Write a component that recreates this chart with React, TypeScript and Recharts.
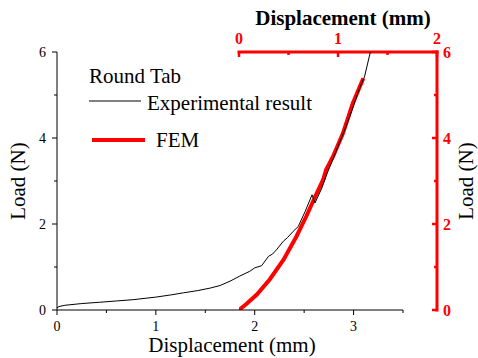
import React from 'react';
import { LineChart, Line, XAxis, YAxis } from 'recharts';

// Experimental result (bottom displacement axis, mm) vs load (N)
const expDisp = [0, 0.02, 0.08, 0.25, 0.43, 0.6, 0.77, 1.0, 1.15, 1.28, 1.42, 1.55, 1.65, 1.75, 1.85, 1.95, 2.0, 2.07, 2.14, 2.18, 2.22, 2.29, 2.33, 2.39, 2.44, 2.51, 2.58, 2.61, 2.68, 2.73, 2.79, 2.86, 2.93, 3.0, 3.06, 3.11, 3.17];
const expLoad = [0.05, 0.08, 0.11, 0.15, 0.18, 0.21, 0.24, 0.3, 0.35, 0.4, 0.45, 0.51, 0.57, 0.67, 0.79, 0.9, 0.98, 1.03, 1.25, 1.3, 1.4, 1.6, 1.68, 1.83, 1.94, 2.29, 2.68, 2.49, 2.84, 3.16, 3.5, 3.9, 4.3, 4.75, 5.15, 5.42, 6.0];

// FEM (top displacement axis, mm) vs load (N)
const femDisp = [0, 0.08, 0.18, 0.31, 0.45, 0.58, 0.68, 0.77, 0.85, 0.88, 0.95, 1.05, 1.15, 1.256];
const femLoad = [0, 0.15, 0.36, 0.71, 1.17, 1.71, 2.18, 2.64, 3.03, 3.26, 3.57, 4.11, 4.81, 5.39];

const bottomTicks = [0, 0.5, 1, 1.5, 2, 2.5, 3, 3.5];
const topTicks = [0, 0.5, 1, 1.5, 2];
const loadTicks = [0, 1, 2, 3, 4, 5, 6];

const expData = expDisp.map((x, i) => ({ x, y: expLoad[i] }));
const femData = femDisp.map((x, i) => ({ x, y: femLoad[i] }));

const SERIF = '"Liberation Serif", "Times New Roman", serif';
const RED = '#ff0000';

const BottomTick = (props: any) => {
  const { x, y, payload } = props;
  const major = Number.isInteger(payload.value);
  return (
    <g>
      <line x1={x} x2={x} y1={y} y2={y + (major ? 5 : 3)} stroke="#000" strokeWidth={1} />
      {major && (
        <text x={x} y={y + 21} textAnchor="middle" fontSize={14} fontFamily={SERIF} fill="#000">
          {payload.value}
        </text>
      )}
    </g>
  );
};

const LeftTick = (props: any) => {
  const { x, y, payload } = props;
  const major = payload.value % 2 === 0;
  return (
    <g>
      <line x1={x - (major ? 5 : 3)} x2={x} y1={y} y2={y} stroke="#000" strokeWidth={1} />
      {major && (
        <text x={x - 11} y={y} dy="0.35em" textAnchor="end" fontSize={14} fontFamily={SERIF} fill="#000">
          {payload.value}
        </text>
      )}
    </g>
  );
};

const TopTick = (props: any) => {
  const { x, y, payload } = props;
  const major = Number.isInteger(payload.value);
  return (
    <g>
      <line x1={x} x2={x} y1={y} y2={y + (major ? 5 : 3)} stroke={RED} strokeWidth={2.5} />
      {major && (
        <text x={x} y={y - 8} textAnchor="middle" fontSize={16} fontWeight="bold" fontFamily={SERIF} fill={RED}>
          {payload.value}
        </text>
      )}
    </g>
  );
};

const RightTick = (props: any) => {
  const { x, y, payload } = props;
  const major = payload.value % 2 === 0;
  return (
    <g>
      <line x1={x - (major ? 5 : 3)} x2={x} y1={y} y2={y} stroke={RED} strokeWidth={2.5} />
      {major && (
        <text x={x + 6} y={y} dy="0.35em" textAnchor="start" fontSize={16} fontWeight="bold" fontFamily={SERIF} fill={RED}>
          {payload.value}
        </text>
      )}
    </g>
  );
};

export default function App() {
  return (
    <div style={{ position: 'absolute', left: 0, top: 0, width: 478, height: 358, background: '#fff' }}>
      <div style={{ position: 'absolute', left: 0, top: 0 }}>
        <LineChart width={478} height={358} data={femData} margin={{ top: 22, right: 11, bottom: 48, left: 239 }}>
          <XAxis
            type="number"
            dataKey="x"
            orientation="top"
            domain={[0, 2]}
            ticks={topTicks}
            height={30}
            tickSize={0}
            tickMargin={0}
            tickLine={false}
            tick={<TopTick />}
            axisLine={{ stroke: RED, strokeWidth: 3, strokeLinecap: 'square' }}
            allowDataOverflow
          />
          <YAxis
            type="number"
            orientation="right"
            domain={[0, 6]}
            ticks={loadTicks}
            width={30}
            tickSize={0}
            tickMargin={0}
            tickLine={false}
            tick={<RightTick />}
            axisLine={{ stroke: RED, strokeWidth: 3, strokeLinecap: 'square' }}
            allowDataOverflow
          />
          <Line type="linear" dataKey="y" stroke={RED} strokeWidth={4} dot={false} isAnimationActive={false} />
        </LineChart>
      </div>
      <div style={{ position: 'absolute', left: 0, top: 0 }}>
        <LineChart width={478} height={358} data={expData} margin={{ top: 52, right: 75, bottom: 18, left: 17 }}>
          <XAxis
            type="number"
            dataKey="x"
            domain={[0, 3.5]}
            ticks={bottomTicks}
            height={30}
            tickSize={0}
            tickMargin={0}
            tickLine={false}
            tick={<BottomTick />}
            axisLine={{ stroke: '#000', strokeWidth: 1 }}
            allowDataOverflow
          />
          <YAxis
            type="number"
            domain={[0, 6]}
            ticks={loadTicks}
            width={40}
            tickSize={0}
            tickMargin={0}
            tickLine={false}
            tick={<LeftTick />}
            axisLine={{ stroke: '#000', strokeWidth: 1 }}
            allowDataOverflow
          />
          <Line type="linear" dataKey="y" stroke="#000" strokeWidth={1} dot={false} isAnimationActive={false} />
        </LineChart>
      </div>
      <svg width={478} height={358} style={{ position: 'absolute', left: 0, top: 0, pointerEvents: 'none' }}>
        <text x={343} y={25} textAnchor="middle" fontSize={21} fontWeight="bold" fontFamily={SERIF} fill="#000">
          Displacement (mm)
        </text>
        <text x={232} y={352} textAnchor="middle" fontSize={21} fontFamily={SERIF} fill="#000">
          Displacement (mm)
        </text>
        <text x={25} y={181} transform="rotate(-90 25 181)" textAnchor="middle" fontSize={21} fontFamily={SERIF} fill="#000">
          Load (N)
        </text>
        <text x={473} y={181} transform="rotate(-90 473 181)" textAnchor="middle" fontSize={21} fontFamily={SERIF} fill="#000">
          Load (N)
        </text>
        <text x={89} y={83} fontSize={21} fontFamily={SERIF} fill="#000">
          Round Tab
        </text>
        <line x1={89} x2={141} y1={101} y2={101} stroke="#000" strokeWidth={1} />
        <text x={147} y={110} fontSize={21} fontFamily={SERIF} fill="#000">
          Experimental result
        </text>
        <line x1={92} x2={145} y1={140} y2={140} stroke={RED} strokeWidth={4} />
        <text x={156} y={147} fontSize={21} fontFamily={SERIF} fill="#000">
          FEM
        </text>
      </svg>
    </div>
  );
}
